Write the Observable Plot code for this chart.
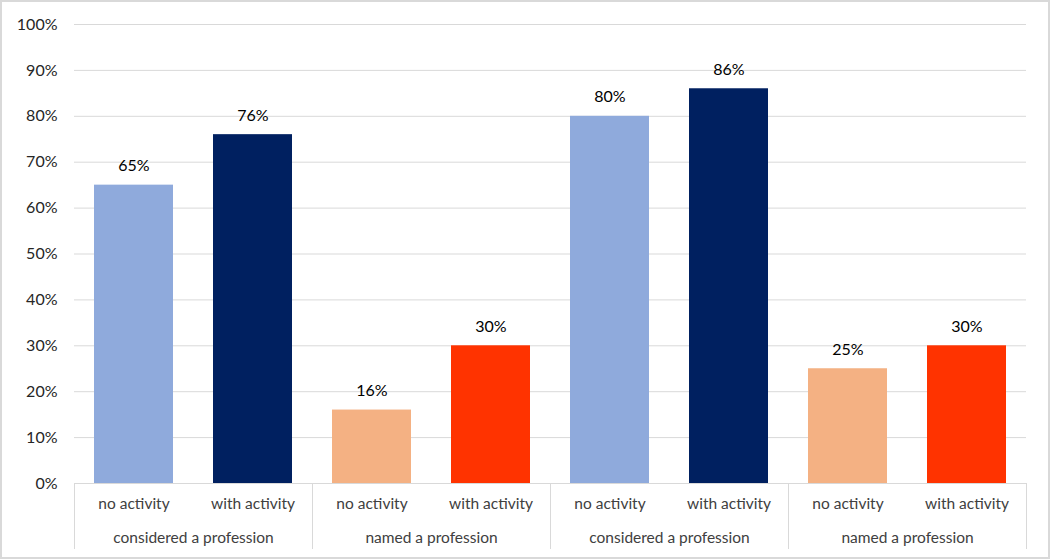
<!DOCTYPE html>
<html><head><meta charset="utf-8">
<script src="https://cdn.jsdelivr.net/npm/d3@7"></script>
<script src="https://cdn.jsdelivr.net/npm/@observablehq/plot@0.6"></script>
<style>
body{margin:0;background:#fff}
#wrap{position:relative;width:1050px;height:559px;overflow:hidden}
#border{position:absolute;left:0;top:0;width:1050px;height:559px;box-sizing:border-box;border:2px solid #d9d9d9;pointer-events:none}
</style></head><body>
<div id="wrap"><div id="chart"></div><div id="border"></div></div>
<script>
const groupIds = ["g1", "g2", "g3", "g4"];
const groupLabels = ["considered a profession", "named a profession", "considered a profession", "named a profession"];
const activities = ["no activity", "with activity"];
const values = [0.65, 0.76, 0.16, 0.30, 0.80, 0.86, 0.25, 0.30];
const barColors = ["#8faadc", "#002060", "#f4b183", "#ff3300", "#8faadc", "#002060", "#f4b183", "#ff3300"];
const yTicks = [0, 0.1, 0.2, 0.3, 0.4, 0.5, 0.6, 0.7, 0.8, 0.9, 1.0];

const data = values.map((v, i) => ({
  group: groupIds[Math.floor(i / 2)],
  activity: activities[i % 2],
  value: v,
  color: barColors[i]
}));

const W = 1050, H = 559, mL = 73, mR = 23, mT = 24, mB = 76;
const innerH = H - mT - mB;
const pct = d => Math.round(d * 100) + "%";

const chart = Plot.plot({
  width: W, height: H,
  marginLeft: mL, marginRight: mR, marginTop: mT, marginBottom: mB,
  style: {fontFamily: "Lato, 'Liberation Sans', sans-serif", fontSize: "15px", background: "transparent"},
  fx: {domain: groupIds, padding: 0, label: null, axis: null},
  x: {domain: activities, paddingInner: 0.34, paddingOuter: 0.17, label: null},
  y: {domain: [0, 1], label: null},
  color: {type: "identity"},
  marks: [
    Plot.gridY(yTicks, {stroke: "#d9d9d9", strokeOpacity: 1}),
    Plot.barY(data, {fx: "group", x: "activity", y: "value", fill: "color"}),
    Plot.ruleY([0], {stroke: "#d9d9d9"}),
    Plot.frame({anchor: "left", stroke: "#d9d9d9", strokeOpacity: 1, insetTop: innerH, insetBottom: -65}),
    Plot.frame({anchor: "right", stroke: "#d9d9d9", strokeOpacity: 1, insetTop: innerH, insetBottom: -65}),
    Plot.text(data, {fx: "group", x: "activity", y: "value", text: d => pct(d.value), lineAnchor: "bottom", dy: -14, fill: "#000", fontSize: 16}),
    Plot.axisY({ticks: yTicks, tickFormat: pct, tickSize: 0, tickPadding: 17, fill: "#262626", fontSize: 16, label: null}),
    Plot.axisX({tickSize: 0, tickPadding: 14, fill: "#404040", fontSize: 15.5, label: null}),
    Plot.axisFx({anchor: "bottom", tickSize: 0, tickPadding: 48, tickFormat: g => groupLabels[groupIds.indexOf(g)], fill: "#404040", fontSize: 15.5, label: null})
  ]
});
document.getElementById("chart").appendChild(chart);
</script>
</body></html>
